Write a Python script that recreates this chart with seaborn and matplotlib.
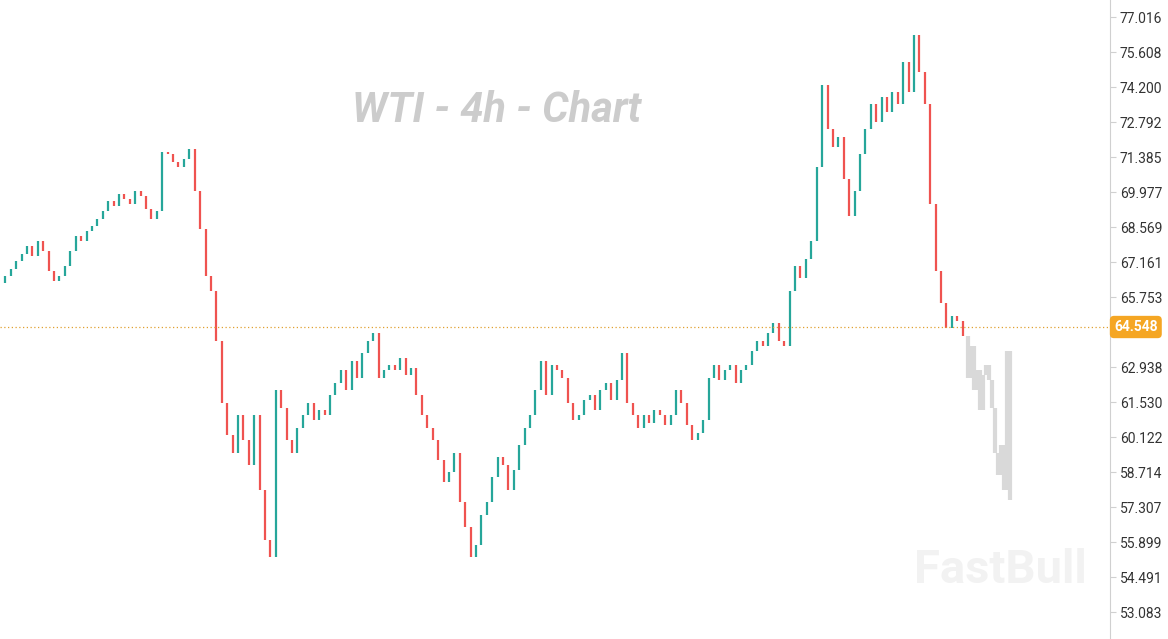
import matplotlib
matplotlib.use("Agg")
import matplotlib.pyplot as plt
import seaborn as sns
import numpy as np

# closing prices of the 4h candles, open = previous close
closes = [66.6, 66.9, 67.2, 67.5, 67.8, 67.4, 68.0, 67.6,
          66.8, 66.4, 66.6,
          67.0, 67.6, 68.2, 68.0, 68.4, 68.6, 68.9,
          69.2, 69.6, 69.4, 69.9, 69.7, 69.5, 70.0, 69.8, 69.3,
          68.9, 69.2,
          71.6, 71.5, 71.2, 71.0, 71.3, 71.7,
          70.0, 68.5, 66.6, 66.0, 64.0, 61.5, 60.2,
          59.5, 61.0, 60.0, 59.0, 61.0, 58.0, 56.0, 55.3,
          62.0, 61.3, 60.0, 59.5, 60.5, 61.0, 61.5, 60.8, 61.2,
          61.0, 61.8, 62.3, 62.8, 62.0, 63.2, 62.5, 63.5, 64.0, 64.3,
          62.5, 62.8, 63.0, 62.8, 63.3, 62.6, 62.9,
          61.8, 61.0, 60.5, 60.0, 59.2, 58.3, 58.7, 59.5, 57.5, 56.5, 55.3,
          55.8, 57.0, 57.5, 58.5, 59.3, 59.0, 58.0, 58.8, 59.8, 60.5, 61.0,
          62.0, 63.2, 61.8, 63.0, 62.8, 62.5, 61.5, 60.8,
          61.0, 61.6, 61.8, 61.2, 62.0, 62.3, 61.6, 62.4, 63.5,
          61.5, 61.0, 60.5, 61.0, 60.7, 61.2, 61.0, 60.6, 61.0, 62.0, 61.5,
          60.6, 60.0, 60.3, 60.8,
          62.5, 63.0, 62.4, 62.8, 63.0, 62.3, 62.8, 63.0,
          63.6, 64.0, 63.8, 64.3, 64.7, 64.0, 63.8,
          66.0, 67.0, 66.5, 67.3, 68.0, 71.0, 74.3,
          72.5, 71.8, 72.2, 70.5, 69.0, 70.0,
          71.5, 72.5, 73.5, 72.8, 73.8, 73.2, 74.0, 73.5, 75.2, 74.0,
          76.3, 74.8, 73.5,
          69.5, 66.8, 65.5, 64.5, 65.0, 64.8, 64.2]
grey_closes = [62.5, 63.8, 62.0, 62.8, 61.2, 62.6, 63.0, 62.4, 61.3, 59.5,
               58.6, 59.8, 58.0, 63.6, 57.6]

last_price = 64.548
yticks = [77.016, 75.608, 74.200, 72.792, 71.385, 69.977, 68.569, 67.161,
          65.753, 62.938, 61.530, 60.122, 58.714, 57.307, 55.899, 54.491, 53.083]

sns.set_style("white")
plt.rcParams["font.family"] = ["Roboto", "DejaVu Sans"]
fig = plt.figure(figsize=(11.68, 6.39), dpi=100)
ax = fig.add_axes([0, 0, 1110 / 1168, 1])

opens = [closes[0] - 0.3] + closes[:-1]
n = len(closes)
for i, (o, c) in enumerate(zip(opens, closes)):
    col = "#26a69a" if c >= o else "#ef5350"
    ax.vlines(i, min(o, c), max(o, c), color=col, lw=1.6)

g_opens = [closes[-1]] + grey_closes[:-1]
for j, (o, c) in enumerate(zip(g_opens, grey_closes)):
    ax.vlines(n + j * 0.55, min(o, c), max(o, c), color="#d9d9d9", lw=3)

ax.set_xlim(-1, (n - 1) * 1110 / 962)
ax.set_ylim(52.0, 77.7)

ax.axhline(last_price, color="#e0a030", ls=(0, (1, 2)), lw=0.9)

for s in ["top", "left", "bottom"]:
    ax.spines[s].set_visible(False)
ax.spines["right"].set_color("#d0d0d0")
ax.yaxis.tick_right()
ax.set_yticks(yticks)
ax.set_yticklabels([f"{v:.3f}" for v in yticks])
ax.tick_params(axis="y", length=4, color="#d0d0d0", labelsize=10,
               labelcolor="#333333", pad=3)
ax.set_xticks([])

ax.text(1.0 + 4 / 1110, last_price, f"{last_price:.3f}", transform=ax.get_yaxis_transform(),
        ha="left", va="center", fontsize=10, color="white", fontweight="bold",
        bbox=dict(boxstyle="round,pad=0.3", fc="#f5a623", ec="none"))

ax.text(497 / 1110, 1 - 110 / 639, "WTI - 4h - Chart", transform=ax.transAxes,
        ha="center", va="center", fontsize=30, fontweight="bold", style="italic",
        color="#cccccc")
ax.text(1000 / 1110, 1 - 570 / 639, "FastBull", transform=ax.transAxes,
        ha="center", va="center", fontsize=34, fontweight="bold",
        color="#f2f2f2")

fig.savefig("out.png", dpi=100)
